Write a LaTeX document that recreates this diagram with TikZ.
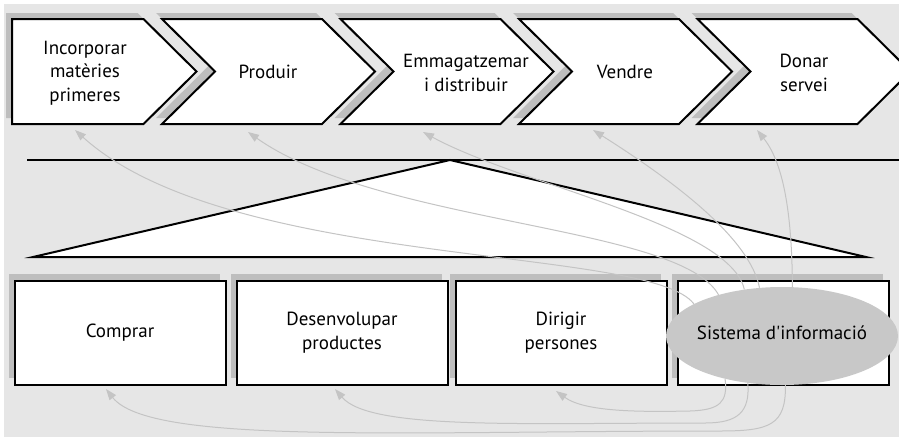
\documentclass[tikz,border=0pt]{standalone}
\usepackage{fontspec}
\setmainfont{PT Sans}[Ligatures=TeXOff]
\usetikzlibrary{arrows.meta,calc,shapes.geometric}

\definecolor{bggray}{HTML}{E6E6E6}
\definecolor{shadowgray}{HTML}{BEBEBE}
\definecolor{linkgray}{HTML}{C4C4C4}
\definecolor{sysgray}{HTML}{C8C8C8}

\tikzset{
  chevron/.style={draw=black, line width=2pt, fill=white},
  stagetext/.style={font=\fontsize{19}{23.5}\selectfont, align=center, inner sep=0pt},
  activity/.style={rectangle, draw=black, line width=2pt, fill=white, minimum width=211pt, minimum height=104pt, stagetext},
  infosys/.style={ellipse, fill=sysgray, minimum width=232pt, minimum height=98pt, inner sep=0pt},
  link/.style={draw=linkgray, line width=1pt, -{Triangle[length=11pt,width=8pt]}},
}

\begin{document}
\begin{tikzpicture}[x=1pt,y=-1pt]
    \useasboundingbox (0,0) rectangle (899,437);
    \fill[bggray] (4,4) rectangle (899,437);

    % primary activities (chevrons)
    \fill[shadowgray] (6,13) -- (137.5,13) -- (190.5,65.5) -- (137.5,118) -- (6,118) -- cycle;
    \draw[chevron] (12,19) -- (143.5,19) -- (196.5,71.5) -- (143.5,124) -- (12,124) -- cycle;
    \foreach \a in {162,340.5,519,697.5} {
        \fill[shadowgray] (\a-6,13) -- ++(160,0) -- ++(53,52.5) -- ++(-53,52.5) -- ++(-160,0) -- ++(53,-52.5) -- cycle;
        \draw[chevron] (\a,19) -- ++(160,0) -- ++(53,52.5) -- ++(-53,52.5) -- ++(-160,0) -- ++(53,-52.5) -- cycle;
    }
    \node[stagetext] (incorp) at (85,73) {Incorporar\\matèries\\primeres};
    \node[stagetext] (produir) at (268,72) {Produir};
    \node[stagetext] (emmag) at (466,73) {Emmagatzemar\\i distribuir};
    \node[stagetext] (vendre) at (625,72) {Vendre};
    \node[stagetext] (donar) at (804,73) {Donar\\servei};

    % line and triangle
    \draw[line width=2pt] (27,160) -- (899,160);
    \draw[line width=2pt, fill=white] (33,257) -- (450,160) -- (866,257) -- cycle;

    % support activities
    \foreach \c in {120,342,561,783.5}
        \fill[shadowgray] (\c-111.5,273.5) rectangle (\c+99.5,377.5);
    \node[activity] (comprar) at (120,332.5) {Comprar};
    \node[activity] (desenv) at (342,332.5) {Desenvolupar\\productes};
    \node[activity] (dirigir) at (561,332.5) {Dirigir\\persones};
    \node[activity] (suport) at (783.5,332.5) {};

    % information system
    \node[infosys] (si) at (782,336) {};
    \node[stagetext] (silbl) at ([yshift=3pt]si.center) {Sistema d'informació};

    % arrow ends
    \coordinate (incorp-in) at (75,130);
    \coordinate (produir-in) at (248,132);
    \coordinate (emmag-in) at (423,132);
    \coordinate (vendre-in) at (593,130);
    \coordinate (donar-in) at (757,130);
    \coordinate (comprar-in) at (106,389);
    \coordinate (desenv-in) at (335,389);
    \coordinate (dirigir-in) at (556,391);

    \draw[link] (si.160) .. controls (650,245) and (230,270) .. (incorp-in);
    \draw[link] (si.147) .. controls (680,225) and (380,225) .. (produir-in);
    \draw[link] (si.129) .. controls (730,225) and (520,185) .. (emmag-in);
    \draw[link] (si.115) .. controls (750,240) and (680,185) .. (vendre-in);
    \draw[link] (si.78) .. controls (792,220) and (785,165) .. (donar-in);
    \draw[link] (si.274) .. controls (786,425) and (770,431) .. (720,431) .. controls (400,431) and (150,445) .. (comprar-in);
    \draw[link] (si.234) .. controls (750,412) and (738,423) .. (705,423) .. controls (520,423) and (370,430) .. (desenv-in);
    \draw[link] (si.217) .. controls (728,402) and (720,410) .. (690,411) .. controls (640,412) and (585,412) .. (dirigir-in);
\end{tikzpicture}
\end{document}
